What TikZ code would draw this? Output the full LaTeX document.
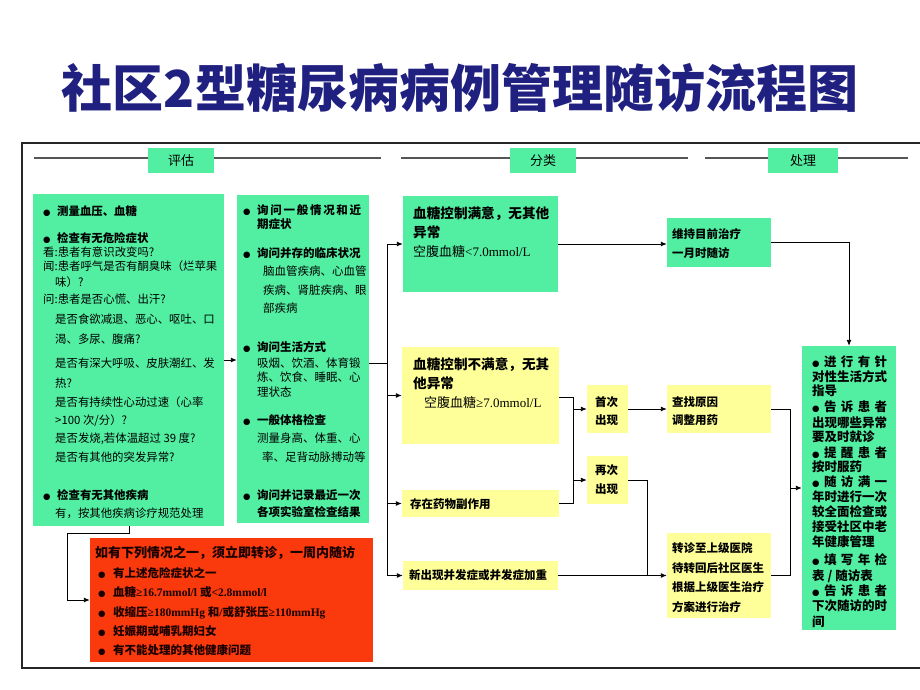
\documentclass[tikz,border=0pt]{standalone}
\usepackage{fontspec}
\setmainfont{Noto Sans CJK SC}
\newfontfamily\dejavu{DejaVu Sans}
\newfontfamily\lserif{Liberation Serif}
\usetikzlibrary{arrows.meta,fit}
\definecolor{gbox}{HTML}{52EFA2}
\definecolor{ybox}{HTML}{FFFF99}
\definecolor{rbox}{HTML}{FA3A0C}
\definecolor{titleblue}{HTML}{202080}
\definecolor{hline}{HTML}{555555}
\newcounter{tn}
\newcommand\tx[4][]{\stepcounter{tn}\node[txt,#1] (t\arabic{tn}) at (#2,#3) {#4};}
\newcommand\bul{{\dejavu\fontsize{8.5}{8.5}\selectfont ●}}
\newcommand\bl{\makebox[14pt][l]{\bul}}
\newcommand\bx[6]{\node[fit={(#2,#3) (#4,#5)},inner sep=0pt,fill=#6] (#1) {};}
\newcommand\jl[1]{\makebox[75pt][s]{#1}}
\tikzset{
  txt/.style={anchor=west,inner sep=0pt},
  r11/.style={font=\fontsize{11.4}{13}\selectfont,text height=10pt,text depth=1.4pt},
  b11/.style={font=\bfseries\fontsize{11.4}{13}\selectfont,text height=10pt,text depth=1.4pt},
  r115/.style={font=\fontsize{11.5}{13}\selectfont,text height=10.1pt,text depth=1.4pt},
  b115/.style={font=\bfseries\fontsize{11.5}{13}\selectfont,text height=10.1pt,text depth=1.4pt},
  r13/.style={font=\fontsize{13}{15}\selectfont,text height=11.4pt,text depth=1.6pt},
  b13/.style={font=\bfseries\fontsize{13}{15}\selectfont,text height=11.4pt,text depth=1.6pt},
  b125/.style={font=\bfseries\fontsize{12.5}{14}\selectfont,text height=11pt,text depth=1.5pt},
  b135/.style={font=\bfseries\fontsize{13.6}{15}\selectfont,text height=12pt,text depth=1.6pt},
  con/.style={draw=black,line width=0.9pt},
  arr/.style={con,-{Latex[length=6pt,width=5pt]}},
}
\begin{document}
\begin{tikzpicture}[x=1pt,y=-1pt]
\useasboundingbox[fill=white] (0,0) rectangle (920,690);
% title
\node[inner sep=0pt,font=\bfseries\fontsize{51}{51}\selectfont,text=titleblue] (title) at (460,88) {社区2型糖尿病病例管理随访流程图};
% frame
\draw[line width=2.4pt,black!85] (930,143) -- (22,143) -- (22,668) -- (930,668);
% header lines
\draw[line width=1.6pt,hline] (34,158) -- (381,158);
\draw[line width=1.6pt,hline] (401,158) -- (688,158);
\draw[line width=1.6pt,hline] (705,158) -- (908,158);
\bx{h1}{148}{148}{214}{173}{gbox}
\bx{h2}{510}{148}{576}{173}{gbox}
\bx{h3}{768}{148}{838}{173}{gbox}
\node[r13,inner sep=0pt] (h1t) at (h1) {评估};
\node[r13,inner sep=0pt] (h2t) at (h2) {分类};
\node[r13,inner sep=0pt] (h3t) at (h3) {处理};
% boxes
\bx{b1}{33}{194}{224}{526}{gbox}
\bx{b2}{237}{195}{369}{523}{gbox}
\bx{b3a}{403}{196}{558}{292}{gbox}
\bx{b3b}{402}{347}{559}{444}{ybox}
\bx{b3c}{402}{490}{559}{517}{ybox}
\bx{b3d}{403}{561}{558}{590}{ybox}
\bx{first}{587}{385}{628}{433}{ybox}
\bx{again}{587}{456}{628}{504}{ybox}
\bx{b4a}{667}{218}{771}{267}{gbox}
\bx{b4b}{667}{385}{771}{433}{ybox}
\bx{b4c}{667}{533}{771}{618}{ybox}
\bx{b5}{802}{346}{896}{630}{gbox}
\bx{red}{90}{538}{373}{662}{rbox}
% connectors
\draw[arr] (b1.east) -- (b1.east -| b2.west);
\coordinate (J1) at (387,363);
\draw[con] (b2.east |- J1) -- (J1);
\draw[con] (J1 |- b3a.west) -- (J1 |- b3d.west);
\draw[arr] (J1 |- b3a.west) -- (b3a.west);
\draw[arr] (J1 |- b3b.west) -- (b3b.west);
\draw[arr] (J1 |- b3c.west) -- (b3c.west);
\draw[arr] (J1 |- b3d.west) -- (b3d.west);
\draw[arr] (b3a.east) -- (b3a.east -| b4a.west);
\draw[arr] (b4a.east) -| (b5.north);
\coordinate (J2) at (573,397);
\draw[con] (b3b.east |- J2) -- (J2) -- (J2 |- b3c.east) -- (b3c.east);
\draw[arr] (J2 |- first.west) -- (first.west);
\draw[arr] (J2 |- again.west) -- (again.west);
\draw[arr] (first.east) -- (b4b.west);
\coordinate (J3) at (647,480);
\draw[con] (again.east) -- (again.east -| J3) -- (J3 |- b4c.west);
\draw[arr] (b3d.east) -- (b3d.east -| b4c.west);
\coordinate (J4) at (790,490);
\draw[con] (b4b.east) -- (b4b.east -| J4) -- (J4 |- b4c.east) -- (b4c.east);
\draw[arr] (J4 |- b5.west) -- (b5.west);
\coordinate (K1) at (129,533);
\coordinate (K2) at (67,533);
\draw[arr] (K1 |- b1.south) -- (K1) -- (K2) |- (red.west);
% box 1 text
\tx[b11]{43}{211}{\bl 测量血压、血糖}
\tx[b11]{43}{238}{\bl 检查有无危险症状}
\tx[r11]{43}{252}{看:患者有意识改变吗?}
\tx[r11]{43}{266}{闻:患者呼气是否有酮臭味（烂苹果}
\tx[r11]{55}{282}{味）?}
\tx[r11]{43}{299}{问:患者是否心慌、出汗?}
\tx[r11]{55}{319}{是否食欲减退、恶心、呕吐、口}
\tx[r11]{55}{339}{渴、多尿、腹痛?}
\tx[r11]{55}{363}{是否有深大呼吸、皮肤潮红、发}
\tx[r11]{55}{383}{热?}
\tx[r11]{55}{402}{是否有持续性心动过速（心率}
\tx[r11]{55}{420}{>100 次/分）?}
\tx[r11]{55}{438}{是否发烧,若体温超过 39 度?}
\tx[r11]{55}{457}{是否有其他的突发异常?}
\tx[b11]{43}{495}{\bl 检查有无其他疾病}
\tx[r11]{55}{513}{有，按其他疾病诊疗规范处理}
% box 2 text
\tx[b115]{243}{210}{\bl\makebox[104pt][s]{询\hfill 问\hfill 一\hfill 般\hfill 情\hfill 况\hfill 和\hfill 近}}
\tx[b115]{257}{224}{期症状}
\tx[b115]{243}{253}{\bl 询问并存的临床状况}
\tx[r115]{263}{271}{脑血管疾病、心血管}
\tx[r115]{263}{290}{疾病、肾脏疾病、眼}
\tx[r115]{263}{308}{部疾病}
\tx[b115]{243}{347}{\bl 询问生活方式}
\tx[r115]{257}{363}{吸烟、饮酒、体育锻}
\tx[r115]{257}{377}{炼、饮食、睡眠、心}
\tx[r115]{257}{392}{理状态}
\tx[b115]{243}{420}{\bl 一般体格检查}
\tx[r115]{257}{438}{测量身高、体重、心}
\tx[r115]{262}{457}{率、足背动脉搏动等}
\tx[b115]{243}{495}{\bl 询问并记录最近一次}
\tx[b115]{257}{512}{各项实验室检查结果}
% box 3 texts
\tx[b135]{413}{213}{血糖控制满意，无其他}
\tx[b135]{413}{232}{异常}
\tx[r13]{413}{252}{空腹血糖{\lserif <7.0mmol/L}}
\tx[b135]{413}{364}{血糖控制不满意，无其}
\tx[b135]{413}{383}{他异常}
\tx[r13]{424}{403}{空腹血糖{\lserif ≥7.0mmol/L}}
\tx[b115]{410}{504}{存在药物副作用}
\tx[b115]{409}{575}{新出现并发症或并发症加重}
% small boxes
\tx[b115]{595}{402}{首次}
\tx[b115]{595}{420}{出现}
\tx[b115]{595}{470}{再次}
\tx[b115]{595}{489}{出现}
\tx[b115]{672}{234}{维持目前治疗}
\tx[b115]{672}{253}{一月时随访}
\tx[b115]{672}{402}{查找原因}
\tx[b115]{672}{420}{调整用药}
\tx[b115]{672}{548}{转诊至上级医院}
\tx[b115]{672}{568}{待转回后社区医生}
\tx[b115]{672}{587}{根据上级医生治疗}
\tx[b115]{672}{607}{方案进行治疗}
% box 5 text
\tx[b125]{812}{362}{\jl{\bul\hfill 进\hfill 行\hfill 有\hfill 针}}
\tx[b125]{812}{377}{对性生活方式}
\tx[b125]{812}{391}{指导}
\tx[b125]{812}{407}{\jl{\bul\hfill 告\hfill 诉\hfill 患\hfill 者}}
\tx[b125]{812}{423}{出现哪些异常}
\tx[b125]{812}{437}{要及时就诊}
\tx[b125]{812}{453}{\jl{\bul\hfill 提\hfill 醒\hfill 患\hfill 者}}
\tx[b125]{812}{467}{按时服药}
\tx[b125]{812}{482}{\jl{\bul\hfill 随\hfill 访\hfill 满\hfill 一}}
\tx[b125]{812}{497}{年时进行一次}
\tx[b125]{812}{512}{较全面检查或}
\tx[b125]{812}{527}{接受社区中老}
\tx[b125]{812}{542}{年健康管理}
\tx[b125]{812}{560}{\jl{\bul\hfill 填\hfill 写\hfill 年\hfill 检}}
\tx[b125]{812}{576}{表 / 随访表}
\tx[b125]{812}{591}{\jl{\bul\hfill 告\hfill 诉\hfill 患\hfill 者}}
\tx[b125]{812}{606}{下次随访的时}
\tx[b125]{812}{622}{间}
% red box text
\begin{scope}[every node/.append style={text=black!90!red}]
\tx[b13]{95}{553}{如有下列情况之一，须立即转诊，一周内随访}
\tx[b115]{98}{573}{\makebox[15pt][l]{\bul}有上述危险症状之一}
\tx[b115]{98}{592}{\makebox[15pt][l]{\bul}血糖{\lserif\bfseries ≥16.7mmol/l }或{\lserif\bfseries <2.8mmol/l}}
\tx[b115]{98}{612}{\makebox[15pt][l]{\bul}收缩压{\lserif\bfseries ≥180mmHg }和{\lserif\bfseries /}或舒张压{\lserif\bfseries ≥110mmHg}}
\tx[b115]{98}{631}{\makebox[15pt][l]{\bul}妊娠期或哺乳期妇女}
\tx[b115]{98}{650}{\makebox[15pt][l]{\bul}有不能处理的其他健康问题}
\end{scope}
\end{tikzpicture}
\end{document}
